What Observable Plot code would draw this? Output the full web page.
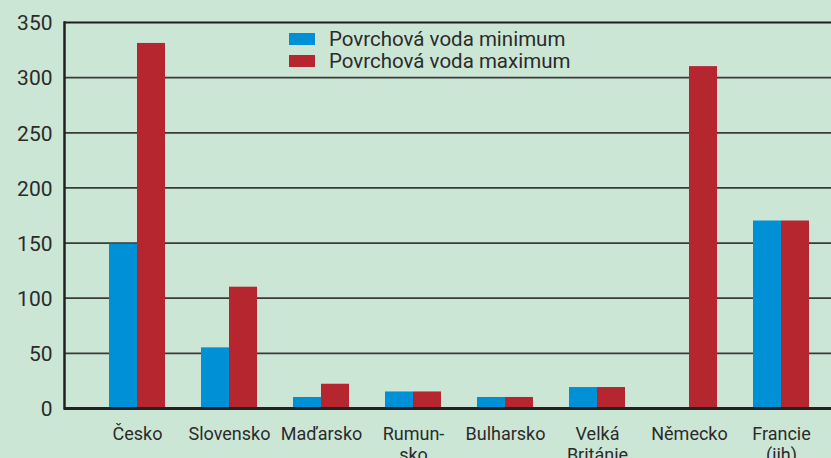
<!DOCTYPE html>
<html><head><meta charset="utf-8">
<script src="https://cdn.jsdelivr.net/npm/d3@7"></script>
<script src="https://cdn.jsdelivr.net/npm/@observablehq/plot@0.6"></script>
<style>
html,body{margin:0;padding:0;background:#cce6d5;}
#wrap{position:relative;width:831px;height:458px;overflow:hidden;font-family:Roboto,sans-serif;color:#2b2b2b}
#wrap svg{display:block}
.legend{position:absolute;left:289px;top:28px;font-size:20.5px}
.row{display:flex;align-items:center;height:22px;white-space:nowrap}
.sw{width:26px;height:12px;margin-right:14px}
</style></head><body><div id="wrap"></div>
<script>
const countries = ["Česko","Slovensko","Maďarsko","Rumunsko","Bulharsko","Velká Británie","Německo","Francie (jih)"];
const tickLabels = ["Česko","Slovensko","Maďarsko","Rumun-\nsko","Bulharsko","Velká\nBritánie","Německo","Francie\n(jih)"];
const minimum = [149,55,10,15,10,19,0.5,170];
const maximum = [331,110,22,15,10,19,310,170];
const yTicks = [0,50,100,150,200,250,300,350];
const seriesNames = ["Povrchová voda minimum","Povrchová voda maximum"];
const colors = ["#0090d5","#b5262e"];

const data = countries.map((c,i)=>({country:c,min:minimum[i],max:maximum[i]}));
const plot = Plot.plot({
  width:831,height:458,marginTop:22,marginBottom:50,marginLeft:64,marginRight:0,
  style:{background:"transparent",fontFamily:"Roboto, sans-serif",color:"#2b2b2b"},
  x:{domain:countries,paddingInner:0.3913,paddingOuter:0.3641,align:0.6716,axis:null,label:null},
  y:{domain:[0,350],axis:null,label:null},
  marks:[
    Plot.ruleY(yTicks.filter(d=>d>0 && d<350),{stroke:"#3a3a3a",strokeWidth:1.7}),
    Plot.ruleY([350],{stroke:"#1e1e1e",strokeWidth:2}),
    Plot.barY(data,{x:"country",y:"min",fill:colors[0],insetRight:28}),
    Plot.barY(data,{x:"country",y:"max",fill:colors[1],insetLeft:28}),
    Plot.ruleY([0],{stroke:"#222",strokeWidth:3}),
    Plot.axisY({ticks:yTicks,tickSize:0,tickPadding:12,fontSize:21,dy:1,label:null}),
    Plot.axisX({tickSize:0,tickPadding:17,fontSize:18,lineHeight:1.16,label:null,tickFormat:(d)=>tickLabels[countries.indexOf(d)]}),
    Plot.frame({anchor:"left",stroke:"#222",strokeWidth:2.5})
  ]
});
const wrap = document.getElementById("wrap");
wrap.appendChild(plot);
const legend = document.createElement("div");
legend.className = "legend";
seriesNames.forEach((n,i)=>{
  const row = document.createElement("div");
  row.className = "row";
  const sw = document.createElement("span");
  sw.className = "sw";
  sw.style.background = colors[i];
  const t = document.createElement("span");
  t.textContent = n;
  row.appendChild(sw); row.appendChild(t);
  legend.appendChild(row);
});
wrap.appendChild(legend);
</script></body></html>
